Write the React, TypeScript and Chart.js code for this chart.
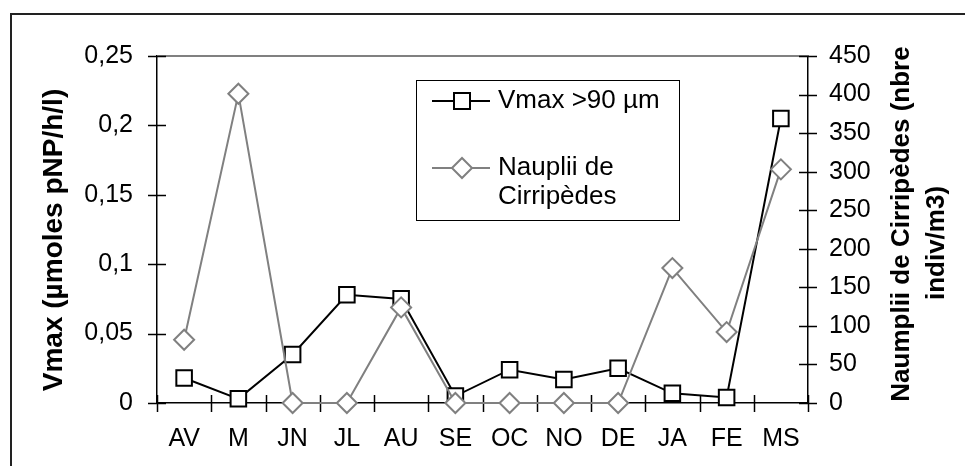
import React, { useEffect, useRef } from 'react';
import { Chart, registerables } from 'chart.js';

Chart.register(...registerables);

const months = ['AV', 'M', 'JN', 'JL', 'AU', 'SE', 'OC', 'NO', 'DE', 'JA', 'FE', 'MS'];
const vmax = [0.018, 0.003, 0.035, 0.078, 0.075, 0.005, 0.024, 0.017, 0.025, 0.007, 0.004, 0.205];
const nauplii = [82, 401, 0, 0, 124, 0, 0, 0, 0, 175, 92, 303];
const leftMin = 0;
const leftMax = 0.25;
const leftStep = 0.05;
const rightMin = 0;
const rightMax = 450;
const rightStep = 50;
const vmaxLabel = 'Vmax >90 µm';
const naupliiLabel = ['Nauplii de', 'Cirripèdes'];
const leftTitle = 'Vmax (µmoles pNP/h/l)';
const rightTitle = ['Naumplii de Cirripèdes (nbre', 'indiv/m3)'];

const FONT = 'Liberation Sans, Arial, sans-serif';
const GRAY = '#808080';

const decor = {
  id: 'decor',
  beforeDatasetsDraw(chart: any) {
    const { ctx, chartArea: a, scales } = chart;
    ctx.save();
    // top border of plot area
    ctx.strokeStyle = GRAY;
    ctx.lineWidth = 2;
    ctx.beginPath();
    ctx.moveTo(a.left, a.top);
    ctx.lineTo(a.right, a.top);
    ctx.stroke();
    // cross tick marks
    ctx.strokeStyle = '#000';
    ctx.lineWidth = 1.5;
    ctx.beginPath();
    scales.y.ticks.forEach((_t: any, i: number) => {
      const py = Math.round(scales.y.getPixelForTick(i)) + 0.5;
      ctx.moveTo(a.left - 9, py);
      ctx.lineTo(a.left + 9, py);
    });
    scales.y1.ticks.forEach((_t: any, i: number) => {
      const py = Math.round(scales.y1.getPixelForTick(i)) + 0.5;
      ctx.moveTo(a.right - 9, py);
      ctx.lineTo(a.right + 9, py);
    });
    const n = months.length;
    const xs: number[] = [a.left];
    for (let i = 0; i < n - 1; i++) {
      xs.push((scales.x.getPixelForTick(i) + scales.x.getPixelForTick(i + 1)) / 2);
    }
    xs.push(a.right);
    xs.forEach((px) => {
      const p = Math.round(px) + 0.5;
      ctx.moveTo(p, a.bottom - 8);
      ctx.lineTo(p, a.bottom + 9);
    });
    ctx.stroke();
    ctx.restore();
  },
  afterDraw(chart: any) {
    const { ctx } = chart;
    ctx.save();
    // outer frame
    ctx.strokeStyle = '#222';
    ctx.lineWidth = 2;
    ctx.beginPath();
    ctx.moveTo(11, 470);
    ctx.lineTo(11, 14);
    ctx.lineTo(970, 14);
    ctx.stroke();

    // axis titles
    ctx.fillStyle = '#000';
    ctx.textAlign = 'center';
    ctx.textBaseline = 'middle';
    ctx.font = `bold 28px ${FONT}`;
    ctx.save();
    ctx.translate(54, 240);
    ctx.rotate(-Math.PI / 2);
    ctx.fillText(leftTitle, 0, 0);
    ctx.restore();

    ctx.font = `bold 26px ${FONT}`;
    ctx.save();
    ctx.translate(902, 224);
    ctx.rotate(-Math.PI / 2);
    ctx.fillText(rightTitle[0], 0, 0);
    ctx.restore();
    ctx.save();
    ctx.translate(937, 243);
    ctx.rotate(-Math.PI / 2);
    ctx.fillText(rightTitle[1], 0, 0);
    ctx.restore();

    // legend
    const bx = 416, by = 80, bw = 263, bh = 140;
    ctx.fillStyle = '#fff';
    ctx.fillRect(bx, by, bw, bh);
    ctx.strokeStyle = '#000';
    ctx.lineWidth = 1;
    ctx.strokeRect(bx + 0.5, by + 0.5, bw, bh);

    // entry 1
    ctx.strokeStyle = '#000';
    ctx.lineWidth = 2;
    ctx.beginPath();
    ctx.moveTo(432, 101);
    ctx.lineTo(490, 101);
    ctx.stroke();
    ctx.fillStyle = '#fff';
    ctx.fillRect(454, 93, 16, 16);
    ctx.strokeRect(454, 93, 16, 16);

    // entry 2
    ctx.strokeStyle = GRAY;
    ctx.beginPath();
    ctx.moveTo(432, 168);
    ctx.lineTo(490, 168);
    ctx.stroke();
    ctx.beginPath();
    ctx.moveTo(462 - 10, 168);
    ctx.lineTo(462, 158);
    ctx.lineTo(462 + 10, 168);
    ctx.lineTo(462, 178);
    ctx.closePath();
    ctx.fillStyle = '#fff';
    ctx.fill();
    ctx.stroke();

    ctx.fillStyle = '#000';
    ctx.textAlign = 'left';
    ctx.textBaseline = 'middle';
    ctx.font = `26px ${FONT}`;
    ctx.fillText(vmaxLabel, 498, 101);
    ctx.fillText(naupliiLabel[0], 498, 168);
    ctx.fillText(naupliiLabel[1], 498, 197);
    ctx.restore();
  },
};

const fmtLeft = (v: any) => {
  const n = parseFloat(Number(v).toFixed(2));
  return String(n).replace('.', ',');
};

export default function App() {
  const ref = useRef<HTMLCanvasElement | null>(null);
  useEffect(() => {
    if (!ref.current) return;
    const tickFont = { family: FONT, size: 25 };
    const chart = new Chart(ref.current, {
      type: 'line',
      data: {
        labels: months,
        datasets: [
          {
            label: vmaxLabel,
            data: vmax,
            yAxisID: 'y',
            borderColor: '#000',
            borderWidth: 2,
            pointStyle: 'rect',
            pointRadius: 11,
            pointBackgroundColor: '#fff',
            pointBorderColor: '#000',
            pointBorderWidth: 2,
            tension: 0,
            order: 2,
            clip: false,
          } as any,
          {
            label: naupliiLabel.join(' '),
            data: nauplii,
            yAxisID: 'y1',
            borderColor: GRAY,
            borderWidth: 2,
            pointStyle: 'rectRot',
            pointRadius: 10,
            pointBackgroundColor: '#fff',
            pointBorderColor: GRAY,
            pointBorderWidth: 2,
            tension: 0,
            order: 1,
            clip: false,
          } as any,
        ],
      },
      options: {
        animation: false,
        responsive: true,
        maintainAspectRatio: false,
        layout: { padding: { top: 56, left: 0, right: 0, bottom: 0 } },
        plugins: {
          legend: { display: false },
          tooltip: { enabled: false },
        },
        scales: {
          x: {
            type: 'category',
            offset: true,
            grid: { display: false, drawTicks: false, tickLength: 0 },
            border: { display: true, color: '#000', width: 1.5 },
            ticks: {
              color: '#000',
              font: tickFont,
              padding: 21,
              maxRotation: 0,
              autoSkip: false,
            },
            afterFit: (s: any) => {
              s.height = 63;
            },
          },
          y: {
            position: 'left',
            min: leftMin,
            max: leftMax,
            grid: { display: false, drawTicks: false, tickLength: 0 },
            border: { display: true, color: '#000', width: 1.5 },
            ticks: {
              stepSize: leftStep,
              color: '#000',
              font: tickFont,
              padding: 24,
              callback: (v: any) => fmtLeft(v),
            },
            afterFit: (s: any) => {
              s.width = 157;
            },
          },
          y1: {
            position: 'right',
            min: rightMin,
            max: rightMax,
            grid: { display: false, drawTicks: false, tickLength: 0 },
            border: { display: true, color: '#000', width: 1.5 },
            ticks: {
              stepSize: rightStep,
              color: '#000',
              font: tickFont,
              padding: 21,
            },
            afterFit: (s: any) => {
              s.width = 157;
            },
          },
        },
      } as any,
      plugins: [decor],
    });
    return () => chart.destroy();
  }, []);
  return (
    <div
      style={{
        position: 'fixed',
        left: 0,
        top: 0,
        width: 965,
        height: 466,
        background: '#fff',
      }}
    >
      <canvas ref={ref} />
    </div>
  );
}
